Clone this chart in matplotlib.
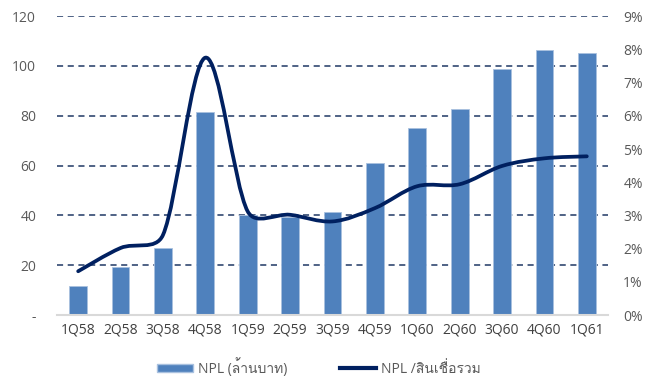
import numpy as np
import matplotlib
matplotlib.use("Agg")
import matplotlib.pyplot as plt
from matplotlib import font_manager
from matplotlib.ft2font import FT2Font
from matplotlib.path import Path
from matplotlib.patches import PathPatch, Patch
from matplotlib.lines import Line2D

# find an installed family with Thai glyphs for the legend text
thai_family = None
for f in font_manager.fontManager.ttflist:
    try:
        if 0x0E01 in FT2Font(f.fname).get_charmap():
            thai_family = f.name
            break
    except Exception:
        pass
families = ['Open Sans']
if thai_family:
    families.append(thai_family)
families.append('DejaVu Sans')
plt.rcParams['font.family'] = families

quarters = ["1Q58", "2Q58", "3Q58", "4Q58", "1Q59", "2Q59", "3Q59",
            "4Q59", "1Q60", "2Q60", "3Q60", "4Q60", "1Q61"]
npl_mb = [11.6, 19.3, 27.0, 81.5, 40.0, 39.3, 41.4, 61.0, 75.0, 82.7, 98.8, 106.4, 105.2]
npl_ratio = [1.32, 2.02, 2.41, 7.75, 3.12, 3.02, 2.82, 3.22, 3.88, 3.94, 4.49, 4.72, 4.78]
left_ticks = [0, 20, 40, 60, 80, 100, 120]
left_labels = ["-", "20", "40", "60", "80", "100", "120"]
right_ticks = list(range(0, 10))

bar_color = "#4f81bd"
line_color = "#002060"
text_color = "#595959"

fig = plt.figure(figsize=(6.58, 3.76), dpi=100)
ax = fig.add_axes([0.0866, 0.162, 0.8374, 0.795])
ax2 = ax.twinx()

x = np.arange(len(quarters))
ax.bar(x, npl_mb, width=0.42, color=bar_color, edgecolor="#a9c1df", linewidth=0.6, zorder=2)
ax.set_ylim(0, 120)
ax.set_xlim(-0.5, len(quarters) - 0.5)
ax.set_yticks(left_ticks)
ax.set_yticklabels(left_labels)
for t in left_ticks[1:]:
    ax.axhline(t, color="#1f3864", linestyle=(0, (4, 3)), linewidth=1.1, zorder=1)
ax.set_xticks(x)
ax.set_xticklabels(quarters)

for a in (ax, ax2):
    for s in a.spines.values():
        s.set_visible(False)
    a.tick_params(length=0, colors=text_color, labelsize=10)
ax.spines['bottom'].set_visible(True)
ax.spines['bottom'].set_color("#d9d9d9")
ax.spines['bottom'].set_linewidth(1.5)
ax.tick_params(axis='x', pad=5, labelcolor="#404040")
ax.tick_params(axis='y', pad=15)
ax2.tick_params(axis='y', pad=11)

ax2.set_ylim(0, 9)
ax2.set_yticks(right_ticks)
ax2.set_yticklabels([f"{v}%" for v in right_ticks])

# smoothed line: Catmull-Rom handles (1/6) in screen space,
# each handle capped at 0.4 of its segment length
pts = ax2.transData.transform(np.column_stack([x, npl_ratio]).astype(float))
n = len(pts)

def cap(h, seg):
    lim = 0.4 * seg
    ln = np.linalg.norm(h)
    return h * (lim / ln) if ln > lim else h

verts = [pts[0]]
codes = [Path.MOVETO]
for i in range(n - 1):
    p0 = pts[i - 1] if i > 0 else pts[i]
    p1 = pts[i]
    p2 = pts[i + 1]
    p3 = pts[i + 2] if i + 2 < n else pts[i + 1]
    seg = np.linalg.norm(p2 - p1)
    c1 = p1 + cap((p2 - p0) / 6.0, seg)
    c2 = p2 - cap((p3 - p1) / 6.0, seg)
    verts += [c1, c2, p2]
    codes += [Path.CURVE4] * 3
verts = ax2.transData.inverted().transform(np.array(verts))
ax2.add_patch(PathPatch(Path(verts, codes), facecolor="none", edgecolor=line_color,
                        linewidth=2.7, capstyle="round", zorder=3))

handles = [Patch(facecolor=bar_color, edgecolor="#a9c1df"),
           Line2D([0], [0], color=line_color, linewidth=3)]
fig.legend(handles, ["NPL (ล้านบาท)", "NPL /สินเชื่อรวม"], loc="lower center",
           bbox_to_anchor=(0.485, -0.035), ncol=2, frameon=False, fontsize=10,
           labelcolor=text_color, handlelength=2.6, handleheight=0.5,
           columnspacing=3.8, handletextpad=0.35)

fig.savefig("out.png", dpi=100)
